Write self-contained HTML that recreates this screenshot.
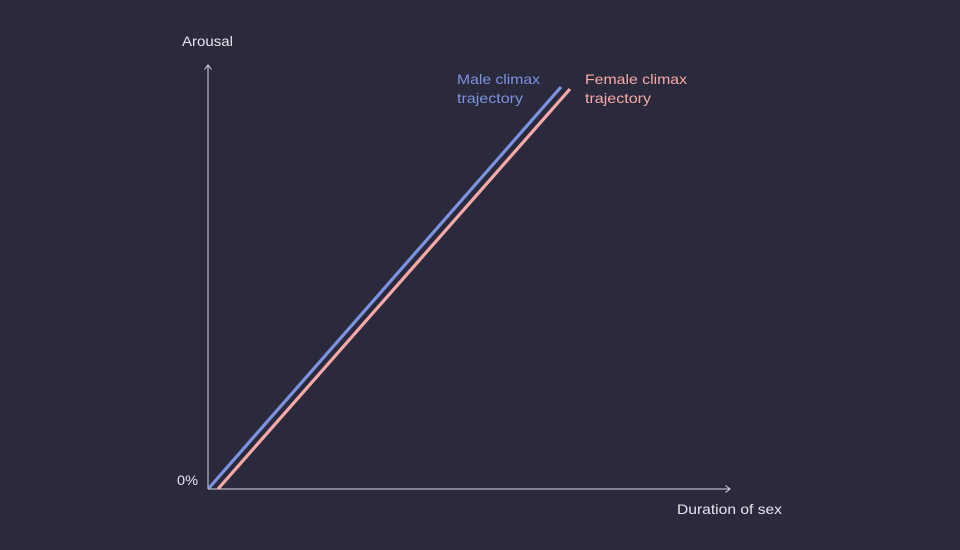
<!DOCTYPE html>
<html><head><meta charset="utf-8"><style>
html,body{margin:0;padding:0;background:#2b2a3c;}
svg{display:block}
text{font-family:"Liberation Sans",sans-serif;font-size:14px;}
</style></head><body>
<svg width="960" height="550" viewBox="0 0 960 550">
<rect width="960" height="550" fill="#2b2a3c"/>
<g stroke="#d8d8e0" stroke-width="1" fill="none">
<line x1="208" y1="489" x2="208" y2="65"/>
<polyline points="204.5,69.5 208,65 211.5,69.5"/>
<line x1="208" y1="489" x2="730" y2="489"/>
<polyline points="725.5,485.5 730,489 725.5,492.5"/>
</g>
<line x1="209" y1="488" x2="561" y2="87" stroke="#7b93e0" stroke-width="3.2"/>
<line x1="218" y1="489" x2="570" y2="89" stroke="#f7a9a8" stroke-width="3.2"/>
<text x="182" y="46" fill="#e6e6ee" textLength="51" lengthAdjust="spacingAndGlyphs">Arousal</text>
<text x="177" y="485" fill="#e6e6ee" textLength="21" lengthAdjust="spacingAndGlyphs">0%</text>
<text x="677" y="514" fill="#e6e6ee" textLength="105" lengthAdjust="spacingAndGlyphs">Duration of sex</text>
<text x="457" y="84" fill="#7b93e0" textLength="83" lengthAdjust="spacingAndGlyphs">Male climax</text>
<text x="457" y="103" fill="#7b93e0" textLength="66" lengthAdjust="spacingAndGlyphs">trajectory</text>
<text x="585" y="84" fill="#f7a9a8" textLength="102" lengthAdjust="spacingAndGlyphs">Female climax</text>
<text x="585" y="103" fill="#f7a9a8" textLength="66" lengthAdjust="spacingAndGlyphs">trajectory</text>
</svg>
</body></html>
